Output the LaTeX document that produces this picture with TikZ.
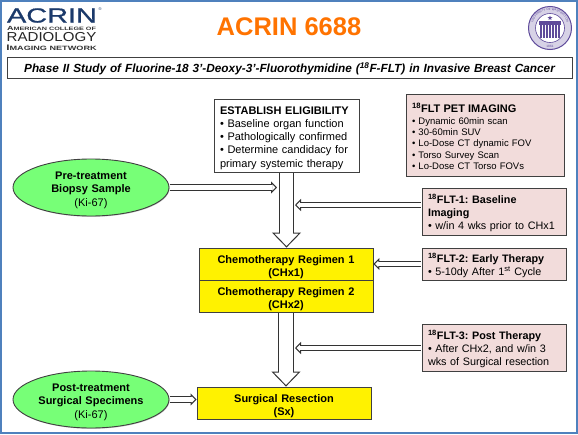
\documentclass[tikz,border=0pt]{standalone}
\usepackage{fontspec}
\setmainfont{Liberation Sans}
\newfontfamily\logofont[FakeBold=0.7]{Liberation Sans}
\usepackage{xcolor}
\usetikzlibrary{shapes.geometric,arrows.meta,shadows,decorations.text}

\definecolor{acrinblue}{HTML}{1B3A6B}
\definecolor{framecol}{HTML}{4F81BD}
\definecolor{pinkfill}{HTML}{F2DCDB}
\definecolor{greenfill}{HTML}{77FF77}
\definecolor{sealcol}{HTML}{5F4B9B}

\newcommand{\fs}[1]{\fontsize{#1}{1.2\dimexpr #1pt\relax}\selectfont}

\begin{document}
\frenchspacing
\begin{tikzpicture}[x=1pt, y=-1pt,
  lowered/.style={execute at begin node={\rule{0pt}{#1}}},
  box/.style={rectangle, draw=black!75, line width=0.9pt, inner ysep=0pt, inner xsep=6pt, align=left, lowered=12.5pt, drop shadow={shadow xshift=0.8pt, shadow yshift=-0.8pt, fill=black!45, opacity=0.8}},
  plainbox/.style={box, fill=white, font=\fs{11}, text width=133pt, minimum height=73pt},
  pinkbox/.style={box, fill=pinkfill, font=\fs{10.8}, text width=132pt, lowered=10pt},
  yellowbox/.style={box, fill=yellow, align=center, inner xsep=0pt, text width=174pt, font=\fs{11}\bfseries, minimum height=32pt, lowered=14pt},
  oval/.style={ellipse, draw=black!75, line width=0.9pt, fill=greenfill, align=center, inner xsep=0pt, inner ysep=-2pt, text width=110pt, minimum width=156pt, minimum height=57pt, font=\fs{11}, lowered=13pt, drop shadow={shadow xshift=0.6pt, shadow yshift=-0.8pt, fill=black!45}},
  bigarrow/.style={draw=black!80, line width=1pt, double=white, double distance=13.6pt, shorten <=0.6pt, -{Triangle[open, length=15pt, width=29pt]},
    postaction={draw=white, line width=13.6pt, double=none, -, shorten >=13.5pt, shorten <=0.6pt}},
  thinarrow/.style={draw=black!80, line width=1pt, double=white, double distance=4.2pt, shorten <=0.6pt, -{Triangle[open, length=6pt, width=12pt]},
    postaction={draw=white, line width=4.2pt, double=none, -, shorten >=4.8pt, shorten <=0.6pt}}]

  \useasboundingbox (0,0) rectangle (578,434);
  \fill[white] (0,0) rectangle (578,434);
  \draw[framecol, line width=2pt] (1,1) rectangle (577,433);

  % Logo
  \node[text=acrinblue, font=\logofont\fs{20.5}, xscale=1.41, inner sep=0pt] (acrin) at (52,15.5) {ACRIN};
  \node[text=acrinblue, font=\fs{4}, inner sep=0pt] (reg) at (100,9) {®};
  \node[text=black!80, font=\fs{6}\bfseries, xscale=1.5, inner sep=0pt] (acr) at (51.5,28.5) {A\fs{4.8}MERICAN C\fs{4.8}OLLEGE OF};
  \node[text=black!85, font=\fs{13}, xscale=1.16, inner sep=0pt] (rad) at (51.5,37.5) {RADIOLOGY};
  \node[text=black!80, font=\fs{8}\bfseries, xscale=1.47, inner sep=0pt] (net) at (51.5,47.5) {I\fs{6.2}MAGING N\fs{6.2}ETWORK};

  % Title
  \node[text=orange!90!red, font=\fs{25.5}\bfseries, inner sep=0pt] (title) at (289,27) {ACRIN 6688};

  % Seal
  \node[circle, draw=sealcol, line width=1pt, fill=sealcol!25, minimum size=43pt, inner sep=0pt] (seal) at (550,28) {};
  \fill[white, draw=sealcol, line width=0.6pt] (seal) circle (14.5pt);
  \path[decorate, decoration={text along path, text align=center, text={|\fs{3}\color{sealcol}|UNIVERSITY OF WASHINGTON}}] (532,28) arc[start angle=180, end angle=0, radius=18pt];
  \node[text=sealcol, font=\fs{3.2}, inner sep=0pt] (year) at (550,46.5) {1861};
  \foreach \sx in {-9,-6,-3,0,3,6,9}
    \draw[sealcol, line width=1.4pt] (550+\sx,24) -- (550+\sx,38);
  \fill[sealcol] (539,20.5) rectangle (561,24.5);
  \node[star, star points=5, star point ratio=2.4, fill=sealcol, inner sep=0pt, minimum size=5pt] (sealstar) at (550,18) {};

  % Subtitle
  \node[box, fill=white, text width=565pt, minimum height=21pt, inner xsep=0pt, align=center, lowered=10.5pt, font=\fs{11.8}\bfseries\itshape] (study) at (289.5,67.5) {Phase II Study of Fluorine-18 3'-Deoxy-3'-Fluorothymidine (\textsuperscript{18}F-FLT) in Invasive Breast Cancer};

  % Boxes on the centre line
  \node[plainbox] (elig) at (286.5,135.5) {\textbf{ESTABLISH ELIGIBILITY}\\
    • Baseline organ function\\
    • Pathologically confirmed\\
    • Determine candidacy for\\
    primary systemic therapy};
  \node[yellowbox] (chx1) at (286,264) {Chemotherapy Regimen 1\\(CHx1)};
  \node[yellowbox] (chx2) at (286,296) {Chemotherapy Regimen 2\\(CHx2)};
  \node[yellowbox] (sx) at (284,403) {Surgical Resection\\(Sx)};

  % Ovals
  \node[oval] (pre) at (91,187.5) {\textbf{Pre-treatment}\\\textbf{Biopsy Sample}\\(Ki-67)};
  \node[oval] (post) at (91,399.5) {\textbf{Post-treatment}\\\textbf{Surgical Specimens}\\(Ki-67)};

  % Imaging boxes
  \node[pinkbox, minimum height=82pt, text width=146pt, font=\fs{9.5}, lowered=0pt] (pet) at (485,135) {{\fs{11}\textbf{\textsuperscript{18}FLT PET IMAGING}}\\
    • Dynamic 60min scan\\
    • 30-60min SUV\\
    • Lo-Dose CT dynamic FOV\\
    • Torso Survey Scan\\
    • Lo-Dose CT Torso FOVs};
  \node[pinkbox, minimum height=47pt] (flt1) at (494,211.5) {\textbf{\textsuperscript{18}FLT-1: Baseline}\\\textbf{Imaging}\\• w/in 4 wks prior to CHx1};
  \node[pinkbox, minimum height=32pt] (flt2) at (494,264) {\textbf{\textsuperscript{18}FLT-2: Early Therapy}\\• 5-10dy After 1\textsuperscript{st} Cycle};
  \node[pinkbox, minimum height=47pt] (flt3) at (494,347.5) {\textbf{\textsuperscript{18}FLT-3: Post Therapy}\\• After CHx2, and w/in 3\\wks of Surgical resection};

  % Arrow ends
  \coordinate (pretip) at (277,187.5);
  \coordinate (flt1tip) at (295,205);
  \coordinate (flt3tip) at (295,348);

  % Arrows
  \draw[bigarrow] (elig.south) -- (elig.south |- chx1.north);
  \draw[bigarrow] (chx2.south) -- (chx2.south |- sx.north);
  \draw[thinarrow] (pre.east) -- (pretip);
  \draw[thinarrow] (post.east) -- (post.east -| sx.west);
  \draw[thinarrow] (flt1.west |- flt1tip) -- (flt1tip);
  \draw[thinarrow] (flt2.west) -- (chx1.east);
  \draw[thinarrow] (flt3.west |- flt3tip) -- (flt3tip);

\end{tikzpicture}
\end{document}
